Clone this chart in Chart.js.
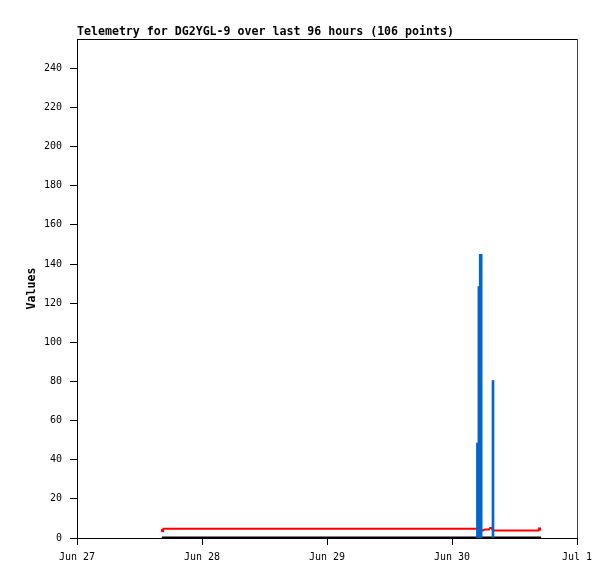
<!DOCTYPE html>
<html>
<head>
<meta charset="utf-8">
<title>Telemetry DG2YGL-9</title>
<script src="https://cdn.jsdelivr.net/npm/chart.js@4.4.1/dist/chart.umd.min.js"></script>
<style>
  html, body { margin: 0; padding: 0; background: #fff; }
  canvas { display: block; }
</style>
</head>
<body>
<canvas id="myChart" width="615" height="579"></canvas>
<script>
// hours since Jun 27 00:00, 96 hour window
const dayLabels = ["Jun 27", "Jun 28", "Jun 29", "Jun 30", "Jul 1"];
const yTicks = [0, 20, 40, 60, 80, 100, 120, 140, 160, 180, 200, 220, 240];

// blue impulses
const blueHours = [76.88, 77.16, 77.42, 77.6, 79.87];
const blueValues = [48.5, 128.5, 145, 145, 80.5];

// red line
const redHours = [16.42, 16.6, 77.0, 77.86, 78.24, 79.1, 79.3, 79.58, 79.87, 88.6, 88.8];
const redValues = [3.8, 4.7, 4.7, 3.8, 4.3, 4.3, 5.1, 5.1, 3.8, 3.8, 4.6];

// black line
const blackHours = [16.3, 89.1];
const blackValues = [0, 0];

const title = "Telemetry for DG2YGL-9 over last 96 hours (106 points)";
const monoFont = "'DejaVu Sans Mono', 'Liberation Mono', monospace";

function pairs(xs, ys) {
  return xs.map((x, i) => ({ x: x, y: ys[i] }));
}

// red line only shows a marker at first and last point
const redRadius = redHours.map((h, i) => (i === 0 || i === redHours.length - 1 ? 2.2 : 0));

const frame = {
  id: "frame",
  afterDraw(chart) {
    const { ctx, chartArea } = chart;
    ctx.save();
    ctx.strokeStyle = "#000";
    ctx.lineWidth = 1;
    ctx.beginPath();
    ctx.moveTo(chartArea.left, chartArea.top + 0.5);
    ctx.lineTo(chartArea.right, chartArea.top + 0.5);
    ctx.stroke();
    ctx.strokeStyle = "#444";
    ctx.beginPath();
    ctx.moveTo(chartArea.right + 0.5, chartArea.top);
    ctx.lineTo(chartArea.right + 0.5, chartArea.bottom);
    ctx.stroke();
    ctx.fillStyle = "#000";
    ctx.font = "bold 11.6px " + monoFont;
    ctx.textAlign = "left";
    ctx.textBaseline = "alphabetic";
    ctx.fillText(title, chartArea.left, chartArea.top - 4);
    ctx.restore();
  },
};

const ctx = document.getElementById("myChart").getContext("2d");

new Chart(ctx, {
  type: "line",
  data: {
    datasets: [
      {
        type: "bar",
        data: pairs(blueHours, blueValues),
        backgroundColor: "#0066cc",
        borderWidth: 0,
        barThickness: 2,
        grouped: false,
      },
      {
        data: pairs(redHours, redValues),
        borderColor: "#ff0000",
        backgroundColor: "#ff0000",
        borderWidth: 2,
        tension: 0,
        pointRadius: redRadius,
        pointStyle: "rect",
        pointBorderWidth: 0,
      },
      {
        data: pairs(blackHours, blackValues),
        borderColor: "#000000",
        borderWidth: 3,
        tension: 0,
        pointRadius: 0,
      },
    ],
  },
  options: {
    responsive: false,
    animation: false,
    devicePixelRatio: 1,
    layout: { padding: { top: 39, right: 38, left: 0, bottom: 0 } },
    plugins: {
      legend: { display: false },
      tooltip: { enabled: false },
      title: { display: false },
    },
    scales: {
      x: {
        type: "linear",
        min: 0,
        max: 96,
        offset: false,
        afterFit(scale) {
          scale.height = 41;
        },
        grid: { drawOnChartArea: false, drawTicks: true, tickLength: 7, color: "#000", offset: false },
        border: { color: "#000", width: 1 },
        ticks: {
          stepSize: 24,
          autoSkip: false,
          maxRotation: 0,
          padding: 6,
          color: "#000",
          font: { family: monoFont, size: 10 },
          callback: (v) => dayLabels[v / 24],
        },
      },
      y: {
        min: 0,
        max: 255,
        afterFit(scale) {
          scale.width = 77;
        },
        afterBuildTicks(scale) {
          scale.ticks = yTicks.map((v) => ({ value: v }));
        },
        grid: { drawOnChartArea: false, drawTicks: true, tickLength: 7, color: "#000" },
        border: { color: "#000", width: 1 },
        ticks: {
          padding: 8,
          color: "#000",
          font: { family: monoFont, size: 10 },
        },
        title: {
          display: true,
          text: "Values",
          color: "#000",
          font: { family: monoFont, size: 11.6, weight: "bold" },
          padding: { top: 25, bottom: 0 },
        },
      },
    },
  },
  plugins: [frame],
});
</script>
</body>
</html>
